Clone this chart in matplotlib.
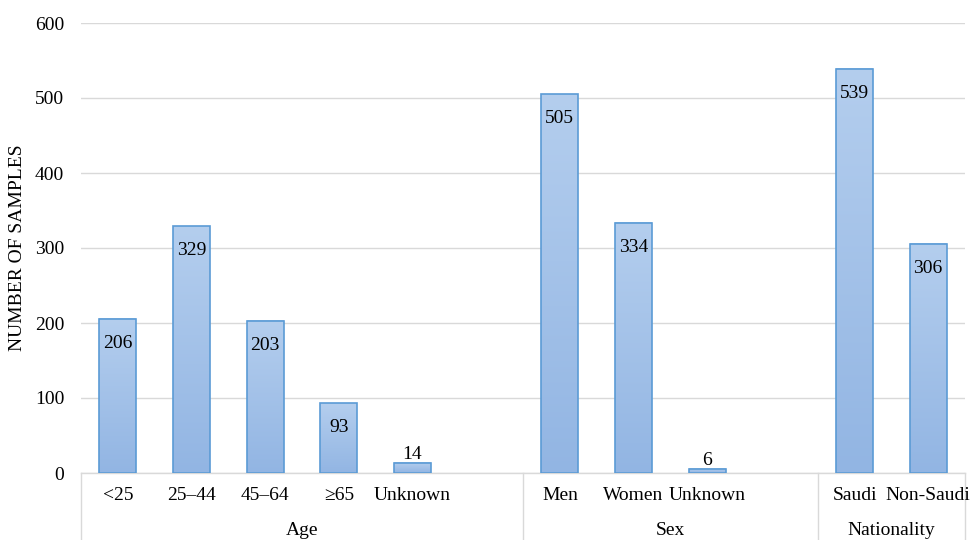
import numpy as np
import matplotlib
matplotlib.use("Agg")
import matplotlib.pyplot as plt
from matplotlib.colors import LinearSegmentedColormap
from matplotlib.transforms import blended_transform_factory

# Category slots (empty strings are spacer slots inside a group)
categories = ["<25", "25\u201344", "45\u201364", "\u226565", "Unknown", "",
              "Men", "Women", "Unknown", "",
              "Saudi", "Non-Saudi"]
values = [206, 329, 203, 93, 14, None,
          505, 334, 6, None,
          539, 306]
groups = ["Age", "Sex", "Nationality"]
group_sizes = [6, 4, 2]

plt.rcParams["font.family"] = ["Liberation Serif", "DejaVu Serif"]
FS = 14

fig = plt.figure(figsize=(9.72, 5.4), dpi=100)
ax = fig.add_axes([81 / 972, 67 / 540, (965 - 81) / 972, 450 / 540])

ax.set_xlim(-0.5, len(categories) - 0.5)
ax.set_ylim(0, 600)
ax.set_yticks(np.arange(0, 601, 100))
ax.yaxis.grid(True, color="#d9d9d9", lw=1.0)
ax.set_axisbelow(True)
for s in ["top", "right", "left"]:
    ax.spines[s].set_visible(False)
ax.spines["bottom"].set_color("#d9d9d9")
ax.spines["bottom"].set_linewidth(1.0)
ax.tick_params(axis="y", length=0, labelsize=FS, pad=12, colors="black")
ax.tick_params(axis="x", length=0, labelbottom=False)
ax.set_ylabel("NUMBER OF SAMPLES", fontsize=FS)
ax.yaxis.set_label_coords(-0.0713, 0.5)
ax.yaxis.label.set_va("center")

cmap = LinearSegmentedColormap.from_list("barfill", ["#92b5e3", "#b4ceee"])
grad = np.linspace(0, 1, 256).reshape(-1, 1)
width = 0.5

for i, v in enumerate(values):
    if v is None:
        continue
    x0 = i - width / 2
    ax.imshow(grad, cmap=cmap, origin="lower", aspect="auto",
              extent=(x0, x0 + width, 0, v), zorder=2, interpolation="bilinear")
    ax.add_patch(plt.Rectangle((x0, 0), width, v, fill=False,
                               edgecolor="#5b9bd5", lw=1.2, zorder=3))
    if v > 40:
        ax.annotate(str(v), (i, v), xytext=(0, -21), textcoords="offset points",
                    ha="center", va="baseline", fontsize=FS, zorder=4)
    else:
        ax.annotate(str(v), (i, v), xytext=(0, 2.5), textcoords="offset points",
                    ha="center", va="baseline", fontsize=FS, zorder=4)

ax.set_xlim(-0.5, len(categories) - 0.5)
ax.set_ylim(0, 600)

# Multi-level category axis
trans = blended_transform_factory(ax.transData, ax.transAxes)
for i, c in enumerate(categories):
    if c:
        ax.text(i, -0.051, c, transform=trans, ha="center", va="center",
                fontsize=FS, clip_on=False)

start = -0.5
bounds = [start]
for g, n in zip(groups, group_sizes):
    end = start + n
    ax.text((start + end) / 2, -0.127, g, transform=trans, ha="center",
            va="center", fontsize=FS, clip_on=False)
    bounds.append(end)
    start = end

for b in bounds:
    ax.plot([b, b], [0, -0.3], transform=trans, color="#d9d9d9", lw=1.0,
            clip_on=False, zorder=1)

fig.savefig("out.png", dpi=100)
